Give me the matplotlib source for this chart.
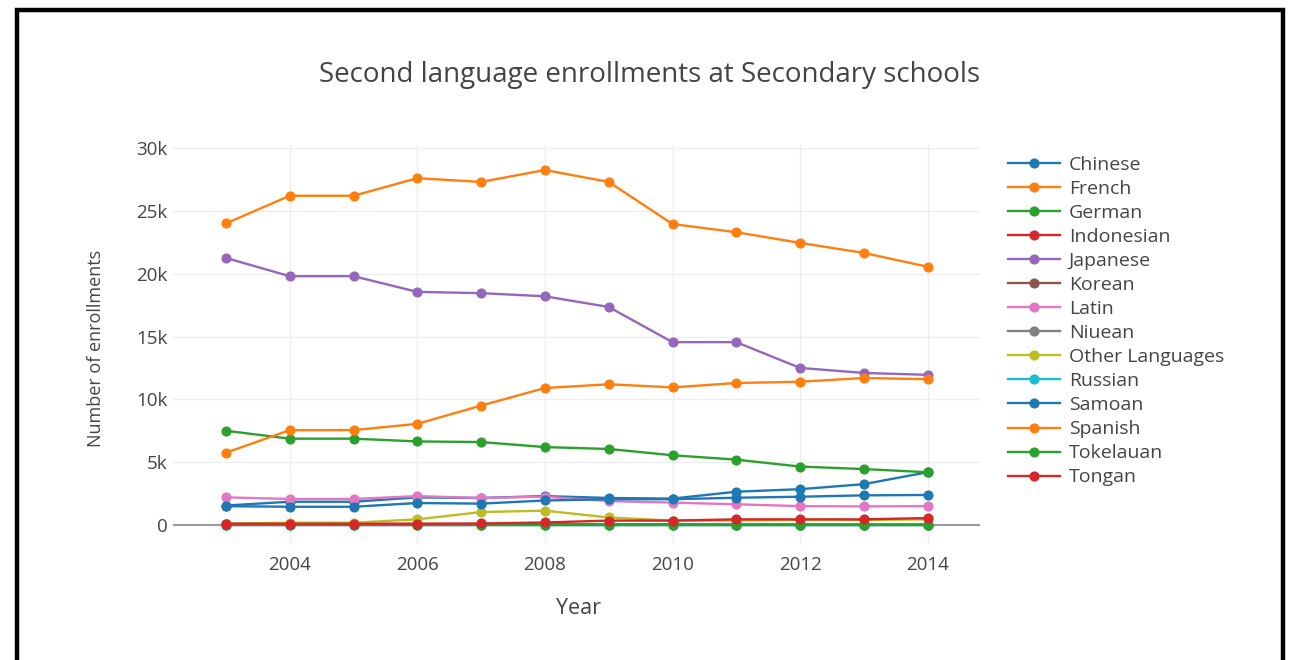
import matplotlib.pyplot as plt
from matplotlib.patches import Rectangle
from matplotlib.ticker import FuncFormatter

# Datos
years = [2003, 2004, 2005, 2006, 2007, 2008, 2009, 2010, 2011, 2012, 2013, 2014]
chinese = [1550, 1850, 1850, 2200, 2150, 2300, 2150, 2100, 2650, 2850, 3250, 4200]
french = [24000, 26200, 26200, 27600, 27300, 28250, 27300, 23950, 23300, 22450, 21650, 20550]
german = [7500, 6870, 6870, 6650, 6600, 6200, 6050, 5550, 5200, 4650, 4450, 4200]
indonesian = [100, 100, 80, 80, 70, 60, 50, 40, 30, 30, 20, 20]
japanese = [21250, 19800, 19800, 18550, 18450, 18200, 17350, 14550, 14550, 12500, 12100, 11950]
korean = [60, 60, 50, 50, 50, 40, 40, 40, 40, 30, 30, 30]
latin = [2200, 2070, 2070, 2300, 2150, 2250, 1900, 1780, 1650, 1500, 1480, 1500]
niuean = [20, 20, 20, 20, 20, 20, 20, 20, 20, 20, 20, 20]
other = [100, 180, 180, 450, 1030, 1140, 600, 350, 350, 400, 400, 450]
russian = [30, 30, 30, 30, 30, 30, 30, 30, 30, 30, 30, 30]
samoan = [1500, 1450, 1450, 1750, 1700, 1950, 2050, 2050, 2170, 2250, 2360, 2390]
spanish = [5750, 7550, 7550, 8050, 9500, 10900, 11200, 10950, 11300, 11400, 11700, 11600]
tokelauan = [10, 10, 10, 10, 10, 5, 5, 5, 5, 5, 5, 5]
tongan = [100, 100, 100, 100, 120, 200, 350, 350, 450, 450, 450, 550]

names = ['Chinese', 'French', 'German', 'Indonesian', 'Japanese', 'Korean', 'Latin',
         'Niuean', 'Other Languages', 'Russian', 'Samoan', 'Spanish', 'Tokelauan', 'Tongan']
series = [chinese, french, german, indonesian, japanese, korean, latin,
          niuean, other, russian, samoan, spanish, tokelauan, tongan]
colors = ['#1f77b4', '#ff7f0e', '#2ca02c', '#d62728', '#9467bd', '#8c564b', '#e377c2',
          '#7f7f7f', '#bcbd22', '#17becf']

plt.rcParams['font.family'] = ['Open Sans', 'DejaVu Sans']
txt = '#444444'

fig = plt.figure(figsize=(12.95, 6.6), dpi=100)
ax = fig.add_axes([173 / 1295, 1 - 545 / 660, (980 - 173) / 1295, 400 / 660])

for i, (n, s) in enumerate(zip(names, series)):
    ax.plot(years, s, color=colors[i % 10], lw=1.7, marker='o', ms=6.3, label=n, zorder=3)

ax.set_xlim(2002.17, 2014.82)
ax.set_ylim(-1592, 30240)
ax.set_xticks([2004, 2006, 2008, 2010, 2012, 2014])
ax.set_yticks([0, 5000, 10000, 15000, 20000, 25000, 30000])
ax.yaxis.set_major_formatter(FuncFormatter(lambda v, p: '0' if v == 0 else f'{int(v / 1000)}k'))
ax.grid(True, color='#eeeeee', lw=1)
ax.axhline(0, color='#888888', lw=1.2, zorder=2)
for sp in ax.spines.values():
    sp.set_visible(False)
ax.tick_params(length=0, labelsize=13.5, colors=txt)
ax.tick_params(axis='y', pad=4)
ax.tick_params(axis='x', pad=8)

ax.set_xlabel('Year', fontsize=15.5, color=txt, va='center')
ax.xaxis.set_label_coords(0.502, -0.16)
ax.set_ylabel('Number of enrollments', fontsize=13, color=txt, va='center')
ax.yaxis.set_label_coords(-0.0954, 0.4925)
fig.text(650 / 1295, 1 - 75 / 660, 'Second language enrollments at Secondary schools',
         fontsize=20, color=txt, ha='center', va='center')

leg = fig.legend(loc='upper left', bbox_to_anchor=(1008 / 1295, 1 - 156 / 660), frameon=False,
                 fontsize=14, handlelength=2.67, labelspacing=0.31, handletextpad=0.46,
                 borderaxespad=0, borderpad=0)
for t in leg.get_texts():
    t.set_color(txt)

# marco negro alrededor
fig.add_artist(Rectangle((17 / 1295, -0.1), (1283 - 17) / 1295, 1.1 - 10.5 / 660,
                         transform=fig.transFigure, fill=False, ec='black', lw=3.2))

plt.savefig('out.png', dpi=100)
plt.close()
